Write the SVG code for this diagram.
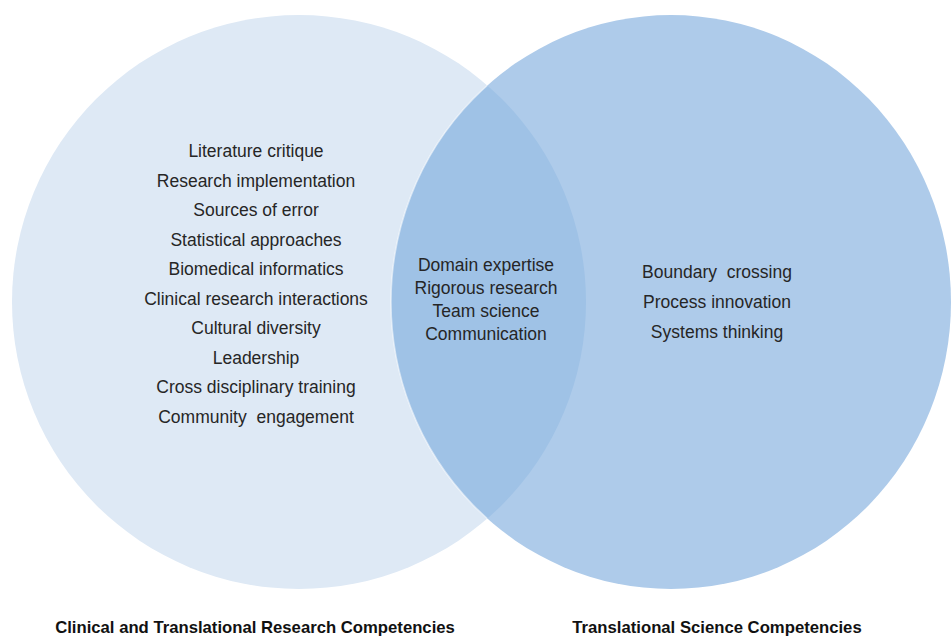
<svg xmlns="http://www.w3.org/2000/svg" width="951" height="636" viewBox="0 0 951 636">
  <defs>
    <style>
      .item { font-family: "Liberation Sans", Arial, sans-serif; font-size: 17.5px; fill: #262626; text-anchor: middle; white-space: pre; }
      .title { font-family: "Liberation Sans", Arial, sans-serif; font-size: 16.7px; font-weight: bold; fill: #111; text-anchor: middle; }
    </style>
    <clipPath id="leftClip">
      <circle cx="299" cy="302" r="287"/>
    </clipPath>
  </defs>

  <rect width="951" height="636" fill="#ffffff"/>

  <!-- Left set: clinical and translational research -->
  <g id="clinical-research">
    <circle cx="299" cy="302" r="287" fill="#DEE9F5"/>
  </g>

  <!-- Right set: translational science -->
  <g id="translational-science">
    <ellipse cx="671" cy="302" rx="280" ry="287" fill="#AECBEA"/>
  </g>

  <!-- Overlap of the two sets -->
  <g id="shared">
    <ellipse cx="671" cy="302" rx="280" ry="287" fill="#9FC2E6" stroke="#ffffff" stroke-opacity="0.55" stroke-width="1.5" clip-path="url(#leftClip)"/>
  </g>

  <g id="clinical-research-items">
    <text class="item" x="256" y="157">Literature critique</text>
    <text class="item" x="256" y="186.5">Research implementation</text>
    <text class="item" x="256" y="216">Sources of error</text>
    <text class="item" x="256" y="245.5">Statistical approaches</text>
    <text class="item" x="256" y="275">Biomedical informatics</text>
    <text class="item" x="256" y="304.5">Clinical research interactions</text>
    <text class="item" x="256" y="334">Cultural diversity</text>
    <text class="item" x="256" y="363.5">Leadership</text>
    <text class="item" x="256" y="393">Cross disciplinary training</text>
    <text class="item" x="256" y="422.5">Community  engagement</text>
  </g>

  <g id="shared-items">
    <text class="item" x="486" y="271">Domain expertise</text>
    <text class="item" x="486" y="294">Rigorous research</text>
    <text class="item" x="486" y="317">Team science</text>
    <text class="item" x="486" y="340">Communication</text>
  </g>

  <g id="translational-science-items">
    <text class="item" x="717" y="278">Boundary  crossing</text>
    <text class="item" x="717" y="308">Process innovation</text>
    <text class="item" x="717" y="338">Systems thinking</text>
  </g>

  <g id="set-titles">
    <text class="title" x="255" y="633">Clinical and Translational Research Competencies</text>
    <text class="title" x="717" y="633">Translational Science Competencies</text>
  </g>
</svg>
